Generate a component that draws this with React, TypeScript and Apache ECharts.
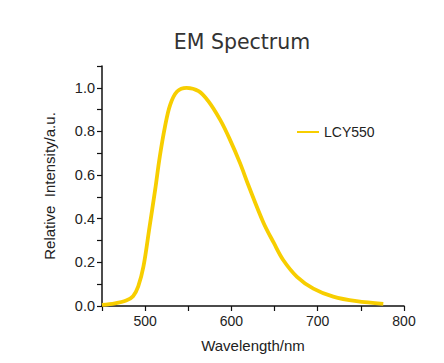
import React, { useEffect, useRef } from "react";
import * as echarts from "echarts";

const wavelengths = [450, 465, 478, 486, 492, 498, 505, 511.5, 517, 523, 529, 537, 548, 562, 573, 587, 598, 610, 620, 637, 649, 660, 676, 695, 718, 745, 776];
const intensity = [0.005, 0.012, 0.025, 0.045, 0.09, 0.18, 0.36, 0.53, 0.685, 0.822, 0.922, 0.983, 1.0, 0.985, 0.94, 0.853, 0.765, 0.655, 0.55, 0.383, 0.29, 0.211, 0.134, 0.08, 0.043, 0.022, 0.01];
const xLabelValues = [500, 600, 700, 800];
const xTickValues = [450, 500, 550, 600, 650, 700, 750, 800];
const yLabelValues = [0, 0.2, 0.4, 0.6, 0.8, 1.0];
const yTickValues = [0, 0.1, 0.2, 0.3, 0.4, 0.5, 0.6, 0.7, 0.8, 0.9, 1.0, 1.1];
const seriesName = "LCY550";

export default function App() {
  const ref = useRef<HTMLDivElement>(null);
  useEffect(() => {
    if (!ref.current) return;
    const chart = echarts.init(ref.current, null, { renderer: "svg" });
    const axisFont = "Liberation Sans";
    chart.setOption({
      animation: false,
      backgroundColor: "#ffffff",
      title: {
        text: "EM Spectrum",
        left: 237,
        textAlign: "center",
        top: 26,
        textStyle: { fontFamily: "DejaVu Sans", fontSize: 20.5, fontWeight: "normal", color: "#333" },
      },
      legend: {
        left: 292,
        top: 120,
        itemWidth: 22,
        itemHeight: 14,
        itemGap: 6,
        data: [{ name: seriesName, icon: "path://M0,6 L22,6 L22,8 L0,8 Z" }],
        textStyle: { fontFamily: axisFont, fontSize: 14, color: "#222" },
      },
      grid: { left: 102, right: 40, top: 66, bottom: 57 },
      xAxis: {
        type: "value",
        min: 450,
        max: 800,
        name: "Wavelength/nm",
        nameLocation: "middle",
        nameGap: 32,
        nameTextStyle: { fontFamily: axisFont, fontSize: 15, color: "#222" },
        axisLine: { lineStyle: { color: "#111", width: 1.5 } },
        axisTick: { show: true, length: 5, customValues: xTickValues, lineStyle: { color: "#111", width: 1.2 } },
        axisLabel: { customValues: xLabelValues, margin: 8, fontFamily: axisFont, fontSize: 14, color: "#222" },
        splitLine: { show: false },
      },
      yAxis: {
        type: "value",
        min: 0,
        max: 1.1,
        name: "Relative  Intensity/a.u.",
        nameLocation: "middle",
        nameGap: 45,
        nameTextStyle: { fontFamily: axisFont, fontSize: 15, color: "#222" },
        axisLine: { show: true, lineStyle: { color: "#111", width: 1.5 } },
        axisTick: { show: true, length: 5, customValues: yTickValues, lineStyle: { color: "#111", width: 1.2 } },
        axisLabel: {
          customValues: yLabelValues,
          margin: 7,
          fontFamily: axisFont,
          fontSize: 14.5,
          color: "#222",
          formatter: (v: number) => v.toFixed(1),
        },
        splitLine: { show: false },
      },
      series: [
        {
          name: seriesName,
          type: "line",
          smooth: 0.35,
          showSymbol: false,
          data: wavelengths.map((w, i) => [w, intensity[i]]),
          lineStyle: { color: "#F7CE00", width: 3.8 },
          itemStyle: { color: "#F7CE00" },
        },
      ],
    });
    return () => chart.dispose();
  }, []);
  return <div ref={ref} style={{ position: "fixed", left: 0, top: 0, width: 444, height: 363 }} />;
}
